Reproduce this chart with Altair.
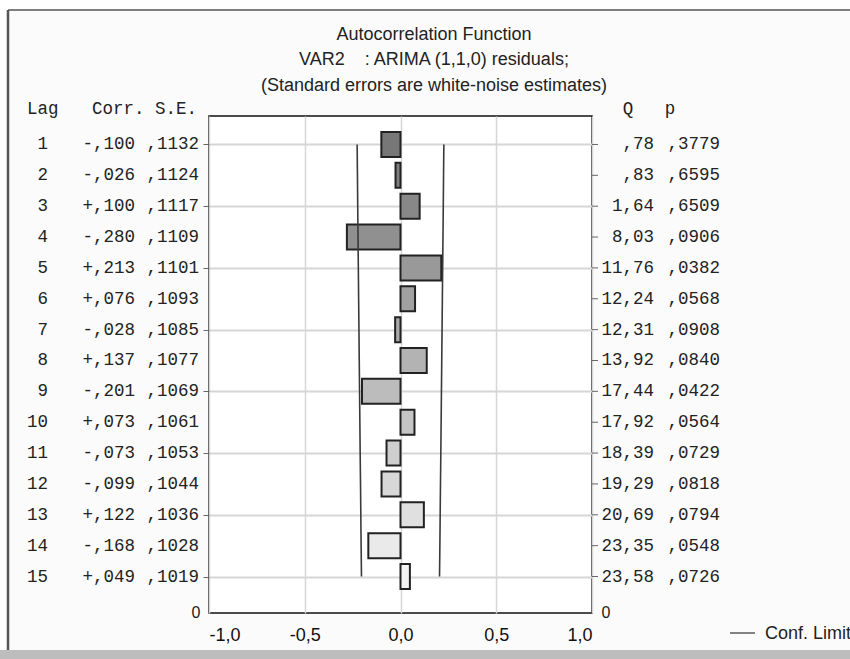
import altair as alt
import pandas as pd

lags = list(range(1, 16))
corr = [-0.100, -0.026, 0.100, -0.280, 0.213, 0.076, -0.028, 0.137, -0.201, 0.073, -0.073, -0.099, 0.122, -0.168, 0.049]
se = [0.1132, 0.1124, 0.1117, 0.1109, 0.1101, 0.1093, 0.1085, 0.1077, 0.1069, 0.1061, 0.1053, 0.1044, 0.1036, 0.1028, 0.1019]
qstat = [0.78, 0.83, 1.64, 8.03, 11.76, 12.24, 12.31, 13.92, 17.44, 17.92, 18.39, 19.29, 20.69, 23.35, 23.58]
pval = [0.3779, 0.6595, 0.6509, 0.0906, 0.0382, 0.0568, 0.0908, 0.0840, 0.0422, 0.0564, 0.0729, 0.0818, 0.0794, 0.0548, 0.0726]
x_ticks = [-1.0, -0.5, 0.0, 0.5, 1.0]
title_lines = ["Autocorrelation Function", "VAR2\u00a0\u00a0\u00a0\u00a0: ARIMA (1,1,0) residuals;", "(Standard errors are white-noise estimates)"]


def dec(v, nd):
    s = f"{abs(v):.{nd}f}".replace(".", ",")
    if s.startswith("0,"):
        s = s[1:]
    return s


df = pd.DataFrame({
    "lag": lags,
    "corr": corr,
    "se": se,
    "q": qstat,
    "p": pval,
})
df["lag_s"] = [str(l) for l in lags]
df["corr_s"] = [("+" if c > 0 else "-") + dec(c, 3) for c in corr]
df["se_s"] = [dec(s, 4) for s in se]
df["q_s"] = [dec(q, 2) for q in qstat]
df["p_s"] = [dec(p, 4) for p in pval]

W, H = 383, 497
MONO = "Liberation Mono"
MSIZE = 17.5
SANS = "Liberation Sans, Arial, sans-serif"

yscale = alt.Scale(domain=[0.24, 16.02], reverse=True, nice=False, zero=False)
xscale = alt.Scale(domain=[-1, 1], nice=False)

base = alt.Chart(df)

y_axis = alt.Axis(values=lags, labels=False, ticks=True, tickSize=6, tickColor="#666",
                  domain=False, grid=True, gridColor="#d6d6d6", gridWidth=2, title=None)
x_axis = alt.Axis(values=x_ticks,
                  labelExpr="replace(replace(format(datum.value, '.1f'), '.', ','), '\u2212', '-')",
                  ticks=False, domain=False, grid=True, gridColor="#d6d6d6", gridWidth=1.5,
                  labelFont=SANS, labelFontSize=18, labelColor="#111", labelPadding=13, title=None)

bars = base.mark_bar(orient="horizontal", size=25, stroke="#222", strokeWidth=2).encode(
    x=alt.X("corr:Q", scale=xscale, axis=x_axis),
    x2=alt.datum(0),
    y=alt.Y("lag:Q", scale=yscale, axis=y_axis),
    color=alt.Color("lag:Q", scale=alt.Scale(domain=[1, 15], range=["#777777", "#f3f3f3"]), legend=None),
)

conf = base.transform_calculate(
    upper="2*datum.se", lower="-2*datum.se"
).transform_fold(["upper", "lower"], as_=["side", "lim"]).mark_line(
    color="#3a3a3a", strokeWidth=1.6
).encode(
    x=alt.X("lim:Q"),
    y=alt.Y("lag:Q"),
    detail="side:N",
)

right_ticks = base.mark_rule(color="#666", strokeWidth=1).encode(
    x=alt.value(W), x2=alt.value(W + 6), y=alt.Y("lag:Q")
)


def col(field, xpix, align):
    return base.mark_text(font=MONO, fontSize=MSIZE, align=align, baseline="middle", color="#222").encode(
        x=alt.value(xpix), y=alt.Y("lag:Q"), text=f"{field}:N"
    )


cols = [
    col("lag_s", -161, "right"),
    col("corr_s", -74, "right"),
    col("se_s", -10, "right"),
    col("q_s", 445, "right"),
    col("p_s", 511, "right"),
]


def label(txt, xpix, ypix, align="left", font=MONO, size=MSIZE):
    return alt.Chart(pd.DataFrame({"t": [txt]})).mark_text(
        font=font, fontSize=size, align=align, baseline="middle", color="#222"
    ).encode(x=alt.value(xpix), y=alt.value(ypix), text="t:N")


headers = [
    label("Lag", -182, -7),
    label("Corr. S.E.", -117, -7),
    label("Q", 419, -7, "center"),
    label("p", 461, -7, "center"),
    label("0", -13, H, "center", SANS, 16),
    label("0", 397, H, "center", SANS, 16),
    label("Conf. Limit", 556, 518, "left", SANS, 18),
]

titles = [
    label(t, 225, yy, "center", SANS, 18) for t, yy in zip(title_lines, [-81, -56, -30])
]

deco_df = pd.DataFrame({"k": [0]})
legend_line = alt.Chart(deco_df).mark_rule(color="#333", strokeWidth=1.2).encode(
    x=alt.value(521), x2=alt.value(546), y=alt.value(517)
)
white_top = alt.Chart(deco_df).mark_rect(color="white").encode(
    x=alt.value(-209), x2=alt.value(641), y=alt.value(-116), y2=alt.value(-106)
)
white_left = alt.Chart(deco_df).mark_rect(color="white").encode(
    x=alt.value(-209), x2=alt.value(-202), y=alt.value(-116), y2=alt.value(534)
)
top_line = alt.Chart(deco_df).mark_rule(color="#555", strokeWidth=1.5).encode(
    x=alt.value(-201), x2=alt.value(641), y=alt.value(-106)
)
left_line = alt.Chart(deco_df).mark_rule(color="#555", strokeWidth=2.5).encode(
    x=alt.value(-201), y=alt.value(-106), y2=alt.value(534)
)
bottom_strip = alt.Chart(deco_df).mark_rect(color="#bdbdbd").encode(
    x=alt.value(-209), x2=alt.value(641), y=alt.value(534), y2=alt.value(543)
)

chart = alt.layer(
    bars, conf, right_ticks, *cols, *headers, *titles,
    legend_line, white_top, white_left, top_line, left_line, bottom_strip,
).properties(
    width=W, height=H,
    autosize=alt.AutoSizeParams(type="none"),
    padding={"left": 209, "top": 116, "right": 258, "bottom": 46},
    background="#fbfbfb",
).configure_view(
    stroke="#111", strokeWidth=1.5, fill="white"
)

chart.save("out.html", embed_options={"renderer": "svg", "actions": False})
